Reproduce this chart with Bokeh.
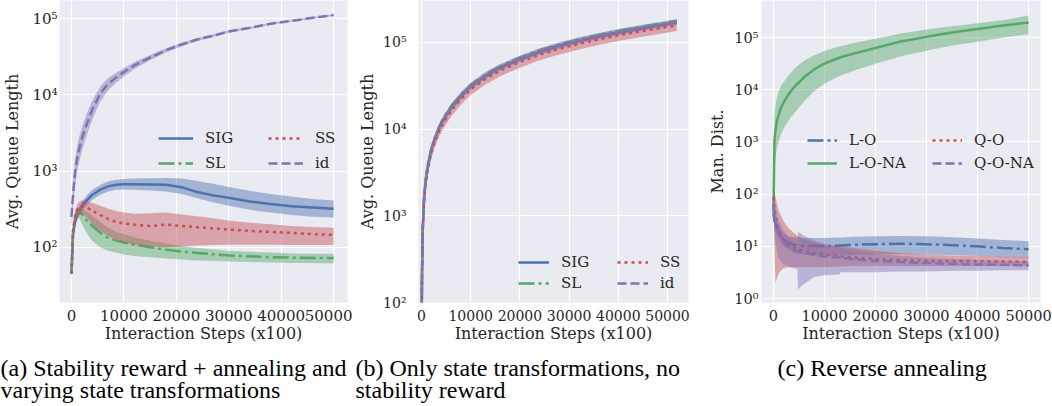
from bokeh.plotting import figure
from bokeh.models import Range1d, FixedTicker, CustomJSTickFormatter, Legend, LegendItem
from bokeh.layouts import column, row
from bokeh.embed import file_html
from bokeh.resources import INLINE
from bokeh.core.properties import value

# ---------------- data ----------------
# Panel (a): stability reward + annealing
XA = [0, 300, 700, 1100, 1500, 2000, 3000, 4000, 5500, 7000, 8500, 10000, 12000, 15000,
      18000, 21000, 24000, 27000, 30000, 34000, 38000, 42000, 46000, 50000]
A_SIG = [45, 150, 220, 260, 300, 350, 420, 490, 570, 630, 660, 670, 670, 665, 660, 615, 530, 480, 446, 400, 370, 346, 333, 320]
A_SIG_LO = [40, 120, 190, 230, 260, 300, 360, 420, 490, 540, 570, 575, 570, 555, 540, 500, 440, 390, 350, 310, 285, 265, 252, 245]
A_SIG_HI = [50, 190, 260, 300, 345, 400, 490, 570, 660, 730, 770, 790, 800, 805, 810, 800, 740, 680, 620, 550, 500, 465, 430, 410]
A_SL = [45, 170, 250, 290, 295, 270, 220, 190, 155, 132, 122, 115, 108, 100, 93, 88, 84, 81, 78, 76, 74, 73, 72, 72]
A_SL_LO = [40, 140, 220, 250, 240, 200, 150, 120, 100, 90, 85, 80, 77, 74, 71, 69, 67, 66, 65, 64, 63, 62, 62, 61]
A_SL_HI = [50, 200, 290, 330, 340, 330, 290, 260, 215, 180, 160, 148, 135, 122, 112, 104, 98, 94, 90, 87, 85, 83, 82, 82]
A_SS = [45, 170, 250, 310, 340, 350, 330, 300, 265, 235, 215, 205, 198, 190, 198, 190, 183, 177, 171, 164, 159, 154, 149, 145]
A_SS_LO = [40, 130, 200, 250, 270, 280, 240, 200, 165, 140, 125, 115, 108, 102, 100, 102, 105, 107, 108, 108, 108, 107, 107, 107]
A_SS_HI = [50, 210, 300, 370, 400, 410, 400, 380, 350, 320, 300, 285, 275, 280, 285, 270, 255, 240, 225, 210, 200, 190, 185, 180]
A_ID = [250, 500, 1000, 1500, 2000, 2700, 4300, 6500, 10500, 14000, 17000, 20000, 24500, 31000,
        38500, 46000, 53500, 60000, 68000, 76000, 86000, 94000, 103000, 112000]
A_ID_LO = [180, 330, 650, 1000, 1350, 1850, 3100, 4800, 8200, 11500, 14500, 17500, 22000, 28500,
           36000, 43500, 51000, 57500, 65500, 73500, 83500, 91500, 100000, 109000]
A_ID_HI = [330, 750, 1500, 2200, 2900, 3800, 5900, 8500, 13000, 16800, 19500, 22500, 27000, 33500,
           41000, 48500, 56000, 62500, 70500, 78500, 88500, 96500, 106000, 115000]

# Panel (b): only state transformations
XB = [0, 100, 250, 500, 800, 1200, 1800, 2500, 3500, 4500, 6000, 8000, 10000, 13000, 16000,
      20000, 24000, 28000, 32000, 36000, 40000, 44000, 48000, 51900]
B_SIG = [30, 200, 700, 1500, 2400, 3500, 5200, 7200, 10000, 13000, 17500, 24000, 31000, 41000, 51000,
         64000, 78000, 91000, 104000, 117000, 130000, 143000, 156000, 170000]
B_SIG_LO = [28, 190, 670, 1440, 2300, 3360, 4990, 6910, 9600, 12500, 16800, 23000, 29800, 39400, 49000,
            61400, 74900, 87400, 99800, 112300, 124800, 137300, 149800, 163000]
B_SIG_HI = [32, 210, 730, 1560, 2500, 3640, 5410, 7490, 10400, 13500, 18200, 25000, 32200, 42600, 53000,
            66600, 81100, 94600, 108200, 121700, 135200, 148700, 162200, 177000]
B_SL = [30, 205, 720, 1550, 2480, 3620, 5380, 7450, 10400, 13500, 18200, 25000, 32300, 42700, 53100,
        66600, 81200, 94700, 108300, 121800, 135300, 148800, 162300, 177000]
B_SL_LO = [28, 197, 690, 1490, 2380, 3480, 5160, 7150, 9980, 13000, 17500, 24000, 31000, 41000, 51000,
           63900, 78000, 90900, 104000, 116900, 129900, 142800, 155800, 170000]
B_SL_HI = [32, 213, 750, 1610, 2580, 3760, 5600, 7750, 10800, 14000, 18900, 26000, 33600, 44400, 55200,
           69300, 84400, 98500, 112600, 126700, 140700, 154800, 168800, 184000]
B_SS = [30, 190, 660, 1400, 2220, 3230, 4800, 6650, 9250, 12000, 16200, 22200, 28700, 38000, 47300,
        59300, 72300, 84400, 96400, 108500, 120500, 132600, 144600, 157000]
B_SS_LO = [25, 160, 560, 1200, 1900, 2780, 4130, 5720, 7950, 10300, 13900, 19100, 24700, 32700, 40700,
           51000, 62200, 72600, 82900, 93300, 103600, 114000, 124400, 135000]
B_SS_HI = [35, 210, 720, 1530, 2420, 3520, 5230, 7250, 10100, 13100, 17700, 24200, 31300, 41400, 51600,
           64600, 78800, 92000, 105100, 118300, 131300, 144500, 157600, 171000]
B_ID = [30, 200, 705, 1510, 2420, 3530, 5250, 7280, 10100, 13150, 17700, 24300, 31400, 41500, 51600,
        64700, 78800, 92000, 105100, 118200, 131300, 144400, 157500, 172000]
B_ID_LO = [25, 175, 620, 1340, 2150, 3140, 4680, 6500, 9100, 11900, 16000, 22000, 28600, 37900, 47200,
           59300, 72400, 84600, 96800, 108900, 121000, 133100, 145200, 159000]
B_ID_HI = [35, 225, 790, 1690, 2710, 3950, 5880, 8150, 11200, 14500, 19500, 26700, 34400, 45400, 56400,
           70600, 85800, 100100, 114300, 128400, 142600, 156700, 170800, 186000]

# Panel (c): reverse annealing
XC = [0, 200, 400, 700, 1000, 1500, 2000, 3000, 4000, 4700, 4800, 6000, 8000, 10000, 13000, 13100,
      16000, 20000, 25000, 30000, 35000, 40000, 45000, 50000]
C_LO = [42, 31, 27, 22, 19, 15, 13.4, 11.6, 10.7, 10.4, 10.4, 10.1, 10.1, 10.1, 10.4, 10.4,
        10.7, 11.0, 11.2, 11.0, 10.5, 10.0, 9.3, 8.8]
C_LO_LO = [32, 22, 19, 16, 14, 11.5, 10, 8.5, 7.6, 7.3, 7.2, 6.9, 6.7, 6.6, 6.7, 6.7,
           6.8, 7.0, 7.1, 7.0, 6.8, 6.5, 6.2, 6.0]
C_LO_HI = [55, 42, 36, 29, 25, 20, 17.5, 15.5, 15, 14.8, 14.8, 14.5, 14.5, 14.5, 14.8, 14.8,
           15.2, 15.6, 15.8, 15.6, 15.0, 14.2, 13.3, 12.5]
C_LONA = [42, 1100, 1700, 2600, 3200, 4600, 5700, 8300, 11000, 13000, 13300, 17300, 24700, 31800, 41500, 41800,
          50000, 63000, 84000, 103000, 125000, 145000, 170000, 195000]
C_LONA_LO = [30, 300, 500, 800, 1000, 1400, 1800, 2600, 3500, 4200, 4300, 6000, 9500, 13000, 18500, 18600,
             23500, 31500, 44000, 56000, 70000, 83000, 100000, 116000]
C_LONA_HI = [60, 3000, 5000, 7500, 9000, 12000, 14000, 19000, 25000, 28500, 29000, 36000, 46000, 55000, 68000, 68300,
             79000, 95000, 120000, 142000, 165000, 188000, 215000, 265000]
C_QO = [87, 56, 39, 27, 22, 16, 13.4, 10.7, 9.4, 8.9, 8.8, 8.1, 7.5, 7.0, 6.4, 6.4,
        6.1, 5.7, 5.5, 5.3, 5.25, 5.2, 5.1, 5.0]
C_QO_LO = [60, 10, 2.0, 2.5, 3.0, 3.5, 3.8, 4.0, 4.0, 4.0, 4.0, 4.0, 4.0, 4.0, 4.1, 4.1,
           4.2, 4.2, 4.2, 4.2, 4.2, 4.2, 4.2, 4.2]
C_QO_HI = [130, 110, 90, 65, 50, 38, 30, 22, 18, 16, 15.8, 14, 12, 11, 10, 10,
           9.2, 8.2, 7.4, 7.0, 6.7, 6.5, 6.3, 6.2]
C_QONA = [65, 42, 31, 22, 19, 14.6, 12.6, 10, 8.6, 8.2, 8.1, 7.5, 6.8, 6.4, 6.1, 6.1,
          5.6, 5.3, 5.0, 4.8, 4.66, 4.5, 4.45, 4.3]
C_QONA_LO = [35, 20, 12, 8, 6, 5, 4.5, 4.0, 3.8, 3.7, 1.5, 1.9, 2.6, 2.8, 2.9, 3.2,
             3.2, 3.2, 3.3, 3.3, 3.4, 3.4, 3.5, 3.5]
C_QONA_HI = [90, 70, 55, 40, 32, 25, 20, 15, 12.5, 11.5, 19, 16, 13, 11, 9.5, 9.4,
             8.2, 7.2, 6.5, 6.0, 5.7, 5.5, 5.3, 5.2]

X_TICKS = [0, 10000, 20000, 30000, 40000, 50000]
A_YTICKS = [100, 1000, 10000, 100000]
B_YTICKS = [100, 1000, 10000, 100000]
C_YTICKS = [1, 10, 100, 1000, 10000, 100000]

CAPTIONS = [
    ("(a) Stability reward + annealing and", "varying state transformations"),
    ("(b) Only state transformations, no", "stability reward"),
    ("(c) Reverse annealing", ""),
]

# ---------------- style ----------------
BLUE, GREEN, RED, PURPLE = "#4C72B0", "#55A868", "#C44E52", "#8172B2"
BG, TXT = "#EAEAF2", "#262626"
SOLID, DOT, DASH, DASHDOT = "solid", "3 4", "9 4", "16 4 3 4"
SERIF = "DejaVu Serif"

XFMT = CustomJSTickFormatter(code="return tick.toFixed(0);")
YFMT = CustomJSTickFormatter(code="""
const sup = ["\\u2070","\\u00B9","\\u00B2","\\u00B3","\\u2074","\\u2075","\\u2076","\\u2077","\\u2078","\\u2079"];
const e = Math.round(Math.log10(tick));
let s = "";
for (const c of String(Math.abs(e))) { s += sup[parseInt(c)]; }
return "10" + (e < 0 ? "\\u207B" : "") + s;
""")


def panel(width, left, right, xr, yr, yticks, ylabel, tick_fs, ylab_stand, ytick_stand):
    p = figure(width=width, height=345, x_range=Range1d(*xr), y_range=Range1d(*yr),
               y_axis_type="log", output_backend="svg", toolbar_location=None,
               min_border_left=left, min_border_right=right, min_border_top=0, min_border_bottom=43,
               background_fill_color=BG, border_fill_color="white", outline_line_color=None)
    xt = FixedTicker(ticks=X_TICKS, minor_ticks=[])
    yt = FixedTicker(ticks=yticks, minor_ticks=[])
    p.xaxis.ticker = xt
    p.xgrid.ticker = xt
    p.yaxis.ticker = yt
    p.ygrid.ticker = yt
    p.xaxis.formatter = XFMT
    p.yaxis.formatter = YFMT
    p.grid.grid_line_color = "white"
    p.grid.grid_line_width = 1.2
    for ax in (p.xaxis[0], p.yaxis[0]):
        ax.axis_line_color = None
        ax.major_tick_line_color = None
        ax.minor_tick_line_color = None
        ax.major_tick_out = 0
        ax.major_tick_in = 0
        ax.minor_tick_out = 0
        ax.minor_tick_in = 0
        ax.major_label_text_font = SERIF
        ax.major_label_text_font_size = tick_fs
        ax.major_label_text_color = TXT
        ax.axis_label_text_font = SERIF
        ax.axis_label_text_font_size = "16px"
        ax.axis_label_text_font_style = "normal"
        ax.axis_label_text_color = TXT
    p.xaxis.axis_label = "Interaction Steps (x100)"
    p.xaxis.major_label_standoff = 7
    p.xaxis.axis_label_standoff = 0
    p.yaxis.axis_label = ylabel
    p.yaxis.major_label_standoff = ytick_stand
    p.yaxis.axis_label_standoff = ylab_stand
    return p


def series(p, x, m, lo, hi, color, dash):
    p.varea(x=x, y1=lo, y2=hi, fill_color=color, fill_alpha=0.45)
    return p.line(x=x, y=m, line_color=color, line_width=2.5, line_dash=dash)


def add_legend(p, items, loc, glyph_w, row_h, label_w):
    lg = Legend(items=[LegendItem(label=l, renderers=[r]) for l, r in items], location=loc, ncols=2,
                orientation="vertical", padding=0, margin=0, spacing=3,
                glyph_width=glyph_w, glyph_height=row_h, label_height=row_h, label_width=label_w,
                label_standoff=12, background_fill_alpha=0, border_line_alpha=0,
                label_text_font=SERIF, label_text_font_size="15px", label_text_color=TXT)
    p.add_layout(lg)


# Panel (a)
pa = panel(352, 59, 5, (-2290, 52660), (18.8, 174000), A_YTICKS, "Avg. Queue Length", "15px", 7, 2)
ra1 = series(pa, XA, A_SIG, A_SIG_LO, A_SIG_HI, BLUE, SOLID)
ra2 = series(pa, XA, A_SL, A_SL_LO, A_SL_HI, GREEN, DASHDOT)
ra3 = series(pa, XA, A_SS, A_SS_LO, A_SS_HI, RED, DOT)
ra4 = series(pa, XA, A_ID, A_ID_LO, A_ID_HI, PURPLE, DASH)
add_legend(pa, [("SIG", ra1), ("SL", ra2), ("SS", ra3), ("id", ra4)], (99, 128), 35, 22, 60)

# Panel (b)
pb = panel(353, 66, 17, (-610, 54270), (100, 304000), B_YTICKS, "Avg. Queue Length", "14px", 3, 12)
rb1 = series(pb, XB, B_SIG, B_SIG_LO, B_SIG_HI, BLUE, SOLID)
rb2 = series(pb, XB, B_SL, B_SL_LO, B_SL_HI, GREEN, DASHDOT)
rb3 = series(pb, XB, B_SS, B_SS_LO, B_SS_HI, RED, DOT)
rb4 = series(pb, XB, B_ID, B_ID_LO, B_ID_HI, PURPLE, DASH)
add_legend(pb, [("SIG", rb1), ("SL", rb2), ("SS", rb3), ("id", rb4)], (100, 10), 31, 18, 53)

# Panel (c)
pc = panel(347, 55, 12, (-2344, 52340), (0.84, 512000), C_YTICKS, "Man. Dist.", "14.5px", 4, 3)
rc1 = series(pc, XC, C_LO, C_LO_LO, C_LO_HI, BLUE, DASHDOT)
rc2 = series(pc, XC, C_LONA, C_LONA_LO, C_LONA_HI, GREEN, SOLID)
rc3 = series(pc, XC, C_QO, C_QO_LO, C_QO_HI, RED, DOT)
rc4 = series(pc, XC, C_QONA, C_QONA_LO, C_QONA_HI, PURPLE, DASH)
add_legend(pc, [("L-O", rc1), ("L-O-NA", rc2), ("Q-O", rc3), ("Q-O-NA", rc4)], (46, 129), 30, 20, 80)

# Captions
pcap = figure(width=1052, height=61, x_range=Range1d(0, 1052), y_range=Range1d(61, 0),
              output_backend="svg", toolbar_location=None, min_border=0,
              outline_line_color=None, background_fill_color="white", border_fill_color="white")
pcap.axis.visible = False
pcap.grid.visible = False
cap_x = [0, 355, 777]
for (l1, l2), cx in zip(CAPTIONS, cap_x):
    pcap.text(x=[cx], y=[22], text=[l1], text_font=value("Liberation Serif"), text_font_size="24px",
              text_color="black", text_baseline="alphabetic")
    if l2:
        pcap.text(x=[cx], y=[44], text=[l2], text_font=value("Liberation Serif"), text_font_size="24px",
                  text_color="black", text_baseline="alphabetic")

layout = column(row(pa, pb, pc), pcap)
open("out.html", "w").write(file_html(layout, INLINE))
